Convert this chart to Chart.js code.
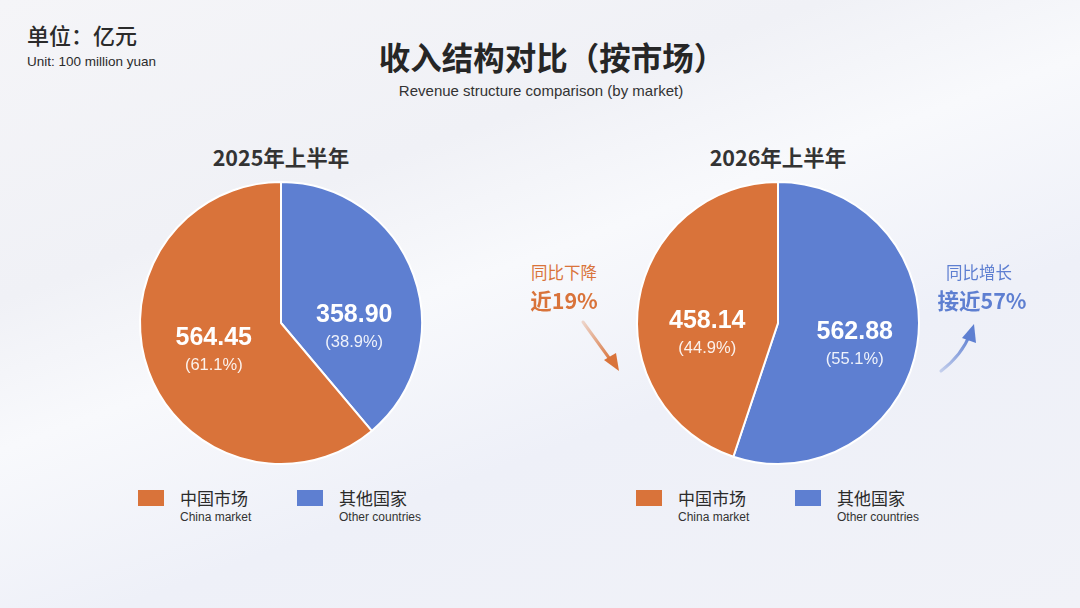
<!DOCTYPE html>
<html>
<head>
<meta charset="utf-8">
<script src="https://cdn.jsdelivr.net/npm/chart.js@4.4.1/dist/chart.umd.min.js"></script>
<style>
  html, body { margin: 0; padding: 0; }
  body {
    width: 1080px; height: 608px; overflow: hidden; position: relative;
    font-family: "Noto Sans CJK SC", "Noto Sans", sans-serif; color: #2b2b2b;
    background: linear-gradient(160deg, #f5f5f8 0%, #f0f1f6 30%, #f8f9fc 45%, #eef0f8 65%, #f1f2f8 100%);
  }
  .abs { position: absolute; }
  .unit { left: 27px; top: 18px; font-size: 22px; font-weight: 500; }
  .unit-en { left: 27px; top: 54px; font-size: 13.5px; font-family: "Liberation Sans", Arial, sans-serif; }
  .title { left: 0; width: 1104px; top: 33px; text-align: center; font-size: 31.5px; font-weight: 700; color: #262626; }
  .subtitle { left: 0; width: 1082px; top: 82px; text-align: center; font-size: 15px; font-family: "Liberation Sans", Arial, sans-serif; color: #333; }
  .ptitle { width: 300px; text-align: center; font-size: 21.5px; font-weight: 700; top: 141px; color: #333; }
  .chartbox { width: 290px; height: 290px; top: 178px; }
  .leg-sw { width: 26px; height: 16px; top: 490px; }
  .leg-cn { top: 485px; font-size: 17px; color: #2b2b2b; }
  .leg-en { top: 510px; font-size: 12px; font-family: "Liberation Sans", Arial, sans-serif; color: #333; }
  .note1 { font-size: 16.5px; text-align: center; width: 120px; top: 260px; }
  .note2 { font-size: 21.5px; font-weight: 700; text-align: center; width: 140px; top: 284px; }
</style>
</head>
<body>
<div class="abs unit">单位：亿元</div>
<div class="abs unit-en">Unit: 100 million yuan</div>
<div class="abs title">收入结构对比（按市场）</div>
<div class="abs subtitle">Revenue structure comparison (by market)</div>

<div class="abs ptitle" id="t0" style="left:131px"></div>
<div class="abs ptitle" id="t1" style="left:628px"></div>

<div class="abs chartbox" style="left:136px"><canvas id="pie0"></canvas></div>
<div class="abs chartbox" style="left:633px"><canvas id="pie1"></canvas></div>

<div id="legends"></div>

<div class="abs note1" style="left:504px; color:#d9733a">同比下降</div>
<div class="abs note2" style="left:494px; color:#d9733a">近19%</div>
<div class="abs note1" style="left:919px; color:#5e7fd1">同比增长</div>
<div class="abs note2" style="left:912px; color:#5e7fd1">接近57%</div>

<svg class="abs" style="left:0;top:0" width="1080" height="608">
  <defs>
    <linearGradient id="ga" x1="0" y1="0" x2="1" y2="1">
      <stop offset="0" stop-color="#d9733a" stop-opacity="0.25"/>
      <stop offset="1" stop-color="#d9733a" stop-opacity="1"/>
    </linearGradient>
    <linearGradient id="gb" x1="0" y1="1" x2="1" y2="0">
      <stop offset="0" stop-color="#5e7fd1" stop-opacity="0.3"/>
      <stop offset="1" stop-color="#5e7fd1" stop-opacity="1"/>
    </linearGradient>
  </defs>
  <path d="M583 322 L612 362" stroke="url(#ga)" stroke-width="3" fill="none" stroke-linecap="round"/>
  <path d="M604 360 L619 371 L616 353 Z" fill="#d9733a"/>
  <path d="M941 371 Q962 355 970 334" stroke="url(#gb)" stroke-width="3" fill="none" stroke-linecap="round"/>
  <path d="M962 338 L974 324 L976 343 Z" fill="#5e7fd1"/>
</svg>

<script>
// Datos
const periods = ['2025年上半年', '2026年上半年'];
const marketsCn = ['其他国家', '中国市场'];
const marketsEn = ['Other countries', 'China market'];
const otherCountries = [358.90, 562.88];
const chinaMarket = [564.45, 458.14];
const shares = [['38.9%', '61.1%'], ['55.1%', '44.9%']];
const colors = ['#5e7fd1', '#d9733a'];

// etiquetas dentro das fatias
const sliceLabels = {
  id: 'sliceLabels',
  afterDatasetsDraw(chart) {
    const ctx = chart.ctx;
    const meta = chart.getDatasetMeta(0);
    const pct = chart.options.plugins.sliceLabels.shares;
    meta.data.forEach((arc, i) => {
      const p = arc.getProps(['x', 'y', 'startAngle', 'endAngle', 'outerRadius'], true);
      const mid = (p.startAngle + p.endAngle) / 2;
      const r = p.outerRadius * 0.53;
      const x = p.x + Math.cos(mid) * r + 3;
      const y = p.y + Math.sin(mid) * r * 0.45 + 4; // linha do valor
      ctx.save();
      ctx.fillStyle = '#ffffff';
      ctx.textAlign = 'center';
      ctx.textBaseline = 'middle';
      ctx.font = 'bold 25px "Liberation Sans", Arial, sans-serif';
      ctx.fillText(chart.data.datasets[0].data[i].toFixed(2), x, y);
      ctx.fillStyle = 'rgba(255,255,255,0.9)';
      ctx.font = '16.5px "Liberation Sans", Arial, sans-serif';
      ctx.fillText('(' + pct[i] + ')', x, y + 27);
      ctx.restore();
    });
  }
};

periods.forEach((p, k) => {
  document.getElementById('t' + k).textContent = p;
  new Chart(document.getElementById('pie' + k), {
    type: 'pie',
    data: {
      labels: marketsCn,
      datasets: [{
        data: [otherCountries[k], chinaMarket[k]],
        backgroundColor: colors,
        borderColor: '#ffffff',
        borderWidth: 2
      }]
    },
    options: {
      responsive: true,
      maintainAspectRatio: false,
      animation: false,
      layout: { padding: 3 },
      plugins: {
        legend: { display: false },
        tooltip: { enabled: false },
        sliceLabels: { shares: shares[k] }
      }
    },
    plugins: [sliceLabels]
  });
});

// legendas (China primeiro)
const legendX = [[138, 297], [636, 795]];
const legendHtml = [];
legendX.forEach(xs => {
  [1, 0].forEach((m, j) => {
    const x = xs[j];
    legendHtml.push('<div class="abs leg-sw" style="left:' + x + 'px;background:' + colors[m] + '"></div>');
    legendHtml.push('<div class="abs leg-cn" style="left:' + (x + 42) + 'px">' + marketsCn[m] + '</div>');
    legendHtml.push('<div class="abs leg-en" style="left:' + (x + 42) + 'px">' + marketsEn[m] + '</div>');
  });
});
document.getElementById('legends').innerHTML = legendHtml.join('');
</script>
</body>
</html>
